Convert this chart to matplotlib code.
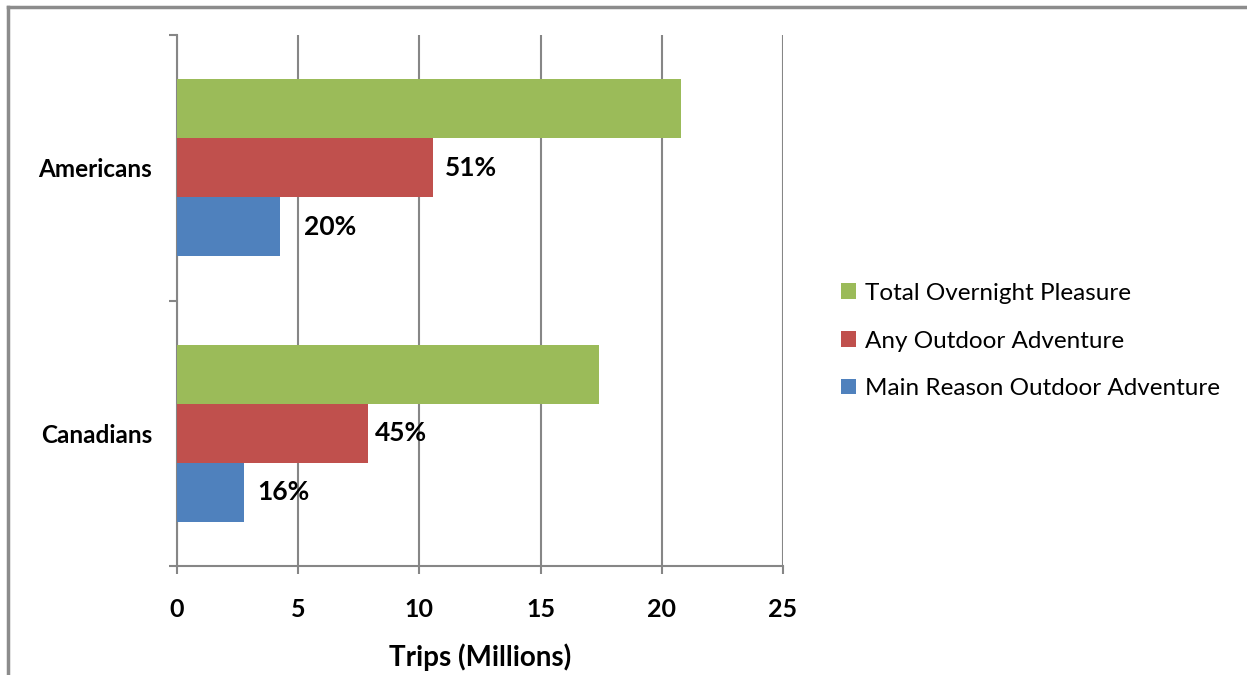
import matplotlib.pyplot as plt
from matplotlib.lines import Line2D
from matplotlib.patches import Patch

plt.rcParams['font.family'] = ['Lato', 'DejaVu Sans']

groups = ['Americans', 'Canadians']
series = ['Total Overnight Pleasure', 'Any Outdoor Adventure', 'Main Reason Outdoor Adventure']
colors = ['#9bbb59', '#c0504d', '#4f81bd']
# trips in millions per group
total_overnight = [20.8, 17.4]
any_outdoor = [10.55, 7.9]
main_reason = [4.25, 2.75]
any_pct = ['51%', '45%']
main_pct = ['20%', '16%']

fig = plt.figure(figsize=(12.47, 6.75), dpi=100)
ax = fig.add_axes([0.1419, 0.1615, 0.486, 0.7865])

ypos = [1, 0]
h = 1 / 1.5 / 3
values = [total_overnight, any_outdoor, main_reason]
for i, (vals, col) in enumerate(zip(values, colors)):
    off = h * (1 - i)
    ax.barh([y + off for y in ypos], vals, height=h, color=col, zorder=3)

# percentage labels beside the red and blue bars
for y, v, t, dx in zip(ypos, any_outdoor, any_pct, [9, 5]):
    ax.annotate(t, (v, y), xytext=(dx, 0), textcoords='offset points',
                va='center', ha='left', fontsize=19, fontweight='bold')
for y, v, t, dx in zip(ypos, main_reason, main_pct, [17, 10]):
    ax.annotate(t, (v, y - h), xytext=(dx, 0), textcoords='offset points',
                va='center', ha='left', fontsize=19, fontweight='bold')

ax.set_xlim(0, 25)
ax.set_ylim(-0.5, 1.5)
ax.set_xticks(range(0, 26, 5))
ax.set_xticklabels([str(v) for v in range(0, 26, 5)], fontsize=18, fontweight='bold')
ax.set_yticks([-0.5, 0.5, 1.5])
ax.set_yticklabels([])
ax.set_yticks(ypos, minor=True)
ax.set_yticklabels(groups, minor=True, fontsize=17.5, fontweight='bold')
ax.tick_params(axis='y', which='minor', length=0, pad=18)
ax.tick_params(axis='y', which='major', length=6, color='#868686', width=1.5)
ax.tick_params(axis='x', length=6, color='#868686', width=1.5, pad=17)
ax.xaxis.grid(True, color='#868686', linewidth=1.5, zorder=0)
for s in ['top', 'right']:
    ax.spines[s].set_visible(False)
for s in ['left', 'bottom']:
    ax.spines[s].set_color('#868686')
    ax.spines[s].set_linewidth(1.5)
ax.set_xlabel('Trips (Millions)', fontsize=20, fontweight='bold', labelpad=16)

handles = [Patch(facecolor=c, edgecolor='none') for c in colors]
fig.legend(handles, series, loc='center left', bbox_to_anchor=(0.657, 0.4948),
           frameon=False, fontsize=17.5, handlelength=0.6, handleheight=0.6,
           handletextpad=0.4, labelspacing=1.1)

# outer chart frame
fig.add_artist(Line2D([8 / 1247, 8 / 1247], [0, 1 - 7 / 675], color='#8c8c8c', linewidth=2.5))
fig.add_artist(Line2D([8 / 1247, 1], [1 - 7 / 675, 1 - 7 / 675], color='#8c8c8c', linewidth=2.5))

fig.savefig('out.png', dpi=100)
